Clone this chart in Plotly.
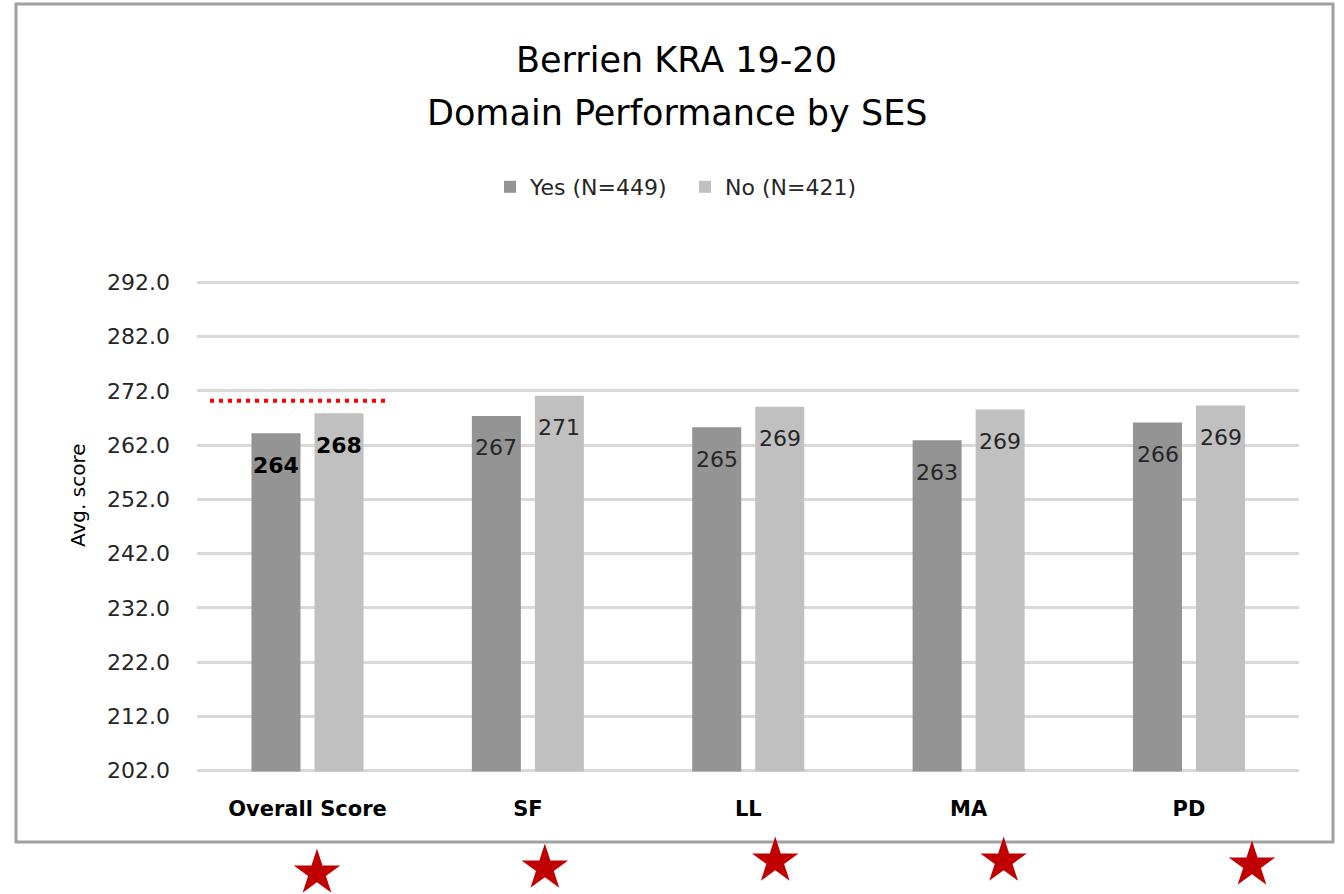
import plotly.graph_objects as go

# ---------------- data ----------------
categories = ["Overall Score", "SF", "LL", "MA", "PD"]
yes_label = "Yes (N=449)"
no_label = "No (N=421)"
yes_values = [264.2, 267.4, 265.3, 262.9, 266.2]
no_values = [267.9, 271.1, 269.1, 268.6, 269.3]
benchmark = 270.2
significant = [True, True, True, True, True]
y_ticks = [202, 212, 222, 232, 242, 252, 262, 272, 282, 292]

title_line1 = "Berrien KRA 19-20"
title_line2 = "Domain Performance by SES"
y_title = "Avg. score"

# ---------------- geometry helpers ----------------
W, H = 1344, 894
def px(x):
    return x / W
def py(y):
    return 1 - y / H

FONT = "DejaVu Sans"
YES_COLOR = "#949494"
NO_COLOR = "#C0C0C0"
STAR_COLOR = "#C00000"

plot_left, plot_right = 197.3, 1299.2
plot_top, plot_bottom = 282.5, 770.5
pad_units = 0.2
unit_px = (plot_bottom - plot_top) / (y_ticks[-1] - y_ticks[0])
cat_px = (plot_right - plot_left) / len(categories)

fig = go.Figure()
fig.add_trace(go.Bar(name=yes_label, x=categories, y=yes_values,
                     marker=dict(color=YES_COLOR, line=dict(width=0))))
fig.add_trace(go.Bar(name=no_label, x=categories, y=no_values,
                     marker=dict(color=NO_COLOR, line=dict(width=0))))

# stars below the chart (significance markers), on a hidden strip of axes
star_shifts = [9.5, 17, 27, 35, 63]      # pixel nudges, as in the original
star_rows = [873, 868, 861, 861, 865]    # pixel row of each star
sig_idx = [i for i, s in enumerate(significant) if s]
fig.add_trace(go.Scatter(
    x=[i + star_shifts[i] / cat_px for i in sig_idx],
    y=[star_rows[i] for i in sig_idx],
    xaxis="x2", yaxis="y2", mode="markers", showlegend=False, hoverinfo="skip",
    cliponaxis=False,
    marker=dict(symbol="star", size=35, color=STAR_COLOR, line=dict(width=0))))

annotations = []
# value labels inside the bars
bar_shift = 31.5
for i, cat in enumerate(categories):
    bold = (i == 0)
    for val, sh in ((yes_values[i], -bar_shift), (no_values[i], bar_shift)):
        txt = f"{int(val + 0.5)}"
        annotations.append(dict(
            x=cat, y=val, xref="x", yref="y", xshift=sh, yshift=-32,
            text=f"<b>{txt}</b>" if bold else txt, showarrow=False,
            xanchor="center", yanchor="middle",
            font=dict(family=FONT, size=22, color="#000000" if bold else "#262626")))

# title lines
annotations.append(dict(x=px(676.5), y=py(60), xref="paper", yref="paper",
                        text=title_line1, showarrow=False, xanchor="center", yanchor="middle",
                        font=dict(family=FONT, size=35, color="#000000")))
annotations.append(dict(x=px(676.5), y=py(113), xref="paper", yref="paper",
                        text=title_line2, showarrow=False, xanchor="center", yanchor="middle",
                        font=dict(family=FONT, size=35, color="#000000")))
# y axis title
annotations.append(dict(x=px(78), y=py(495), xref="paper", yref="paper",
                        text=y_title, showarrow=False, textangle=-90,
                        xanchor="center", yanchor="middle",
                        font=dict(family=FONT, size=20, color="#000000")))

shapes = [
    # chart border
    dict(type="rect", xref="paper", yref="paper",
         x0=px(16), x1=px(1333), y0=py(842), y1=py(4),
         line=dict(color="#A0A0A0", width=3), fillcolor="rgba(0,0,0,0)", layer="below"),
    # benchmark dotted line
    dict(type="line", xref="paper", yref="y",
         x0=px(210), x1=px(390), y0=benchmark, y1=benchmark,
         line=dict(color="#FF0000", width=4, dash="4px,5px")),
]

fig.update_layout(
    width=W, height=H,
    margin=dict(l=0, r=0, t=0, b=0, pad=0, autoexpand=False),
    paper_bgcolor="white", plot_bgcolor="white",
    barmode="group", bargap=0.428, bargroupgap=0.222,
    font=dict(family=FONT, color="#262626"),
    showlegend=True,
    legend=dict(orientation="h", x=px(685), y=py(187), xanchor="center", yanchor="middle",
                font=dict(family=FONT, size=22, color="#262626"),
                entrywidth=150, entrywidthmode="pixels",
                traceorder="normal", itemclick=False, bgcolor="rgba(0,0,0,0)"),
    xaxis=dict(domain=[px(plot_left), px(plot_right)], type="category", automargin=False,
               showgrid=False, showline=False, zeroline=False,
               ticks="outside", ticklen=18, tickcolor="rgba(0,0,0,0)",
               tickfont=dict(family=FONT, size=21, color="#000000"),
               tickvals=categories, ticktext=[f"<b>{c}</b>" for c in categories]),
    yaxis=dict(domain=[py(plot_bottom + pad_units * unit_px), py(plot_top - pad_units * unit_px)],
               range=[y_ticks[0] - pad_units, y_ticks[-1] + pad_units], tickvals=y_ticks,
               ticktext=[f"{v:.1f}" for v in y_ticks], automargin=False,
               showgrid=True, gridcolor="#D9D9D9", gridwidth=2.5,
               zeroline=False, showline=False,
               ticks="outside", ticklen=22, tickcolor="rgba(0,0,0,0)",
               tickfont=dict(family=FONT, size=22, color="#262626")),
    xaxis2=dict(domain=[px(plot_left), px(plot_right)], range=[-0.5, len(categories) - 0.5],
                anchor="y2", visible=False, fixedrange=True),
    yaxis2=dict(domain=[0, py(843)], range=[H, 843], anchor="x2",
                visible=False, fixedrange=True),
    annotations=annotations,
    shapes=shapes,
)

fig.write_html("out.html", config={"displayModeBar": False},
               post_script="document.body.style.margin='0px';")
